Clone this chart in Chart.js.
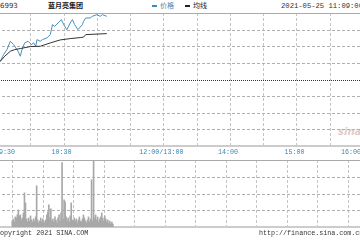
<!DOCTYPE html>
<html>
<head>
<meta charset="utf-8">
<script src="https://cdn.jsdelivr.net/npm/chart.js@4.4.0/dist/chart.umd.min.js"></script>
<style>
  body { margin: 0; background: #fff; }
  #wrap { position: relative; width: 360px; height: 240px; overflow: hidden; background: #fff; }
  .t { position: absolute; white-space: nowrap; line-height: 1; }
  .mono { font-family: 'Liberation Mono', 'DejaVu Sans Mono', monospace; font-size: 6.7px; color: #333; }
  .cjk { font-family: 'Noto Sans CJK SC', sans-serif; font-size: 7px; }
  .dash { display: inline-block; width: 5px; height: 2px; vertical-align: middle; margin-right: 3px; }
  canvas { position: absolute; left: -30px; }
</style>
</head>
<body>
<div id="wrap">
  <div class="t" style="left:0;top:3px;font-family:'DejaVu Sans';font-size:7px;color:#333;">6993</div>
  <div class="t cjk" style="left:48px;top:2px;font-weight:bold;color:#222;">蓝月亮集团</div>
  <div class="t cjk" style="left:152px;top:2px;color:#3d8ab8;"><span class="dash" style="background:#3d8ab8"></span>价格</div>
  <div class="t cjk" style="left:185px;top:2px;color:#222;"><span class="dash" style="background:#222"></span>均线</div>
  <div class="t mono" style="left:281px;top:3px;font-size:7.2px;">2021-05-25 11:09:00</div>
  <div class="t" style="left:338px;top:127px;font-family:'DejaVu Sans';font-style:italic;font-weight:bold;font-size:10px;color:rgba(200,170,170,0.6);">sina</div>
  <canvas id="priceChart" width="420" height="148" style="top:12px;"></canvas>
  <canvas id="volChart" width="420" height="70" style="top:159px;"></canvas>
  <div class="t mono" style="left:-4px;top:230px;">Copyright 2021 SINA.COM</div>
  <div class="t mono" style="left:259px;top:230px;">http://finance.sina.com.cn</div>
</div>
<script>
// x axis: minutes of trading since 09:30 (lunch break removed)
var tickMinutes = [0, 60, 150, 210, 270, 330];
var tickLabels = ['09:30', '10:30', '12:00/13:00', '14:00', '15:00', '16:00'];

var prevClose = 11.00;
var priceLevels = [10.6, 10.7, 10.8, 10.9, 11.0, 11.1, 11.2, 11.3, 11.4];
var volumeLevels = [0, 100, 200, 300, 400];

// price line
var priceMinutes = [0, 3, 6, 9, 12, 15, 17, 19, 21, 23, 25, 28, 31, 33, 35, 36, 39, 41, 45, 48,
  50, 52, 55, 58, 61, 63, 66, 68, 70, 73, 77, 78, 80, 84, 86, 90, 93, 95, 99];
var prices = [11.10, 11.11, 11.15, 11.18, 11.23, 11.21, 11.19, 11.17, 11.14, 11.19, 11.22, 11.23,
  11.21, 11.22, 11.20, 11.24, 11.23, 11.24, 11.25, 11.27, 11.33, 11.32, 11.34, 11.36, 11.32,
  11.30, 11.34, 11.36, 11.33, 11.30, 11.33, 11.35, 11.37, 11.37, 11.38, 11.39, 11.38, 11.39, 11.38];

// average price line
var avgMinutes = [0, 3, 7, 12, 16, 21, 30, 39, 48, 57, 66, 75, 78, 80, 99];
var avgPrices = [11.10, 11.11, 11.14, 11.17, 11.18, 11.186, 11.198, 11.20, 11.22, 11.238,
  11.246, 11.252, 11.255, 11.27, 11.276];

// volume per minute from 09:30
var volumes = [36, 48, 30, 60, 54, 72, 102, 66, 72, 42, 54, 84, 204, 144, 48, 30, 54, 36, 66, 42,
  30, 48, 36, 60, 246, 42, 24, 36, 54, 30, 48, 36, 24, 42, 72, 90, 132, 54, 108, 36,
  48, 30, 60, 42, 24, 54, 72, 36, 84, 384, 48, 162, 150, 60, 36, 54, 30, 66, 144, 42,
  30, 54, 36, 48, 24, 42, 60, 36, 30, 48, 72, 54, 36, 24, 42, 60, 30, 48, 282, 36,
  400, 54, 72, 42, 60, 30, 48, 60, 84, 54, 36, 66, 48, 30, 42, 24, 36, 18, 30, 18];

function near(a, b) { return Math.abs(a - b) < 1e-6; }

var monoFont = { family: "'Liberation Mono', 'DejaVu Sans Mono', monospace", size: 6.7 };
var gridGray = '#c4c4c4';
var rowGray = '#b0b0b0';

// dashed rectangles, one pixel thick, so no line dash state is needed
function hDash(ctx, x1, x2, y, on, off, color) {
  ctx.fillStyle = color;
  for (var x = x1; x < x2; x += on + off) {
    ctx.fillRect(x, y, Math.min(on, x2 - x), 1);
  }
}
function vDash(ctx, x, y1, y2, on, off, color) {
  ctx.fillStyle = color;
  for (var y = y1; y < y2; y += on + off) {
    ctx.fillRect(x, y, 1, Math.min(on, y2 - y));
  }
}

// draws the sina style grid through the chart's scales
function makeGrid(levels, styleFor) {
  return {
    id: 'sinaGrid',
    beforeDatasetsDraw: function (chart) {
      var ctx = chart.ctx, area = chart.chartArea;
      var xs = chart.scales.x, ys = chart.scales.y;
      var left = Math.round(area.left), right = Math.round(area.right);
      var top = Math.round(area.top), bottom = Math.round(area.bottom);
      ctx.save();
      xs.ticks.forEach(function (t) {
        var x = Math.round(xs.getPixelForValue(t.value));
        vDash(ctx, x, top, bottom, 3, 2, gridGray);
      });
      levels.forEach(function (v) {
        var s = styleFor(v);
        var y = Math.round(ys.getPixelForValue(v));
        if (s.dash) {
          hDash(ctx, left, right, y, s.dash[0], s.dash[1], s.color);
        } else {
          ctx.fillStyle = s.color;
          ctx.fillRect(left, y - (s.width > 1 ? 1 : 0), right - left, s.width);
        }
      });
      ctx.restore();
    }
  };
}

var priceCtx = document.getElementById('priceChart').getContext('2d');
new Chart(priceCtx, {
  type: 'line',
  data: {
    datasets: [
      {
        label: '均线',
        data: avgMinutes.map(function (m, i) { return { x: m, y: avgPrices[i] }; }),
        borderColor: '#333',
        borderWidth: 1,
        pointRadius: 0,
        tension: 0
      },
      {
        label: '价格',
        data: priceMinutes.map(function (m, i) { return { x: m, y: prices[i] }; }),
        borderColor: '#4690bd',
        borderWidth: 1,
        pointRadius: 0,
        tension: 0
      }
    ]
  },
  options: {
    responsive: false,
    animation: false,
    devicePixelRatio: 1,
    layout: { padding: { left: 27, right: 27, top: 1, bottom: 0 } },
    plugins: { legend: { display: false }, tooltip: { enabled: false } },
    scales: {
      x: {
        type: 'linear',
        min: 0,
        max: 330,
        grid: { display: false, drawTicks: false },
        border: { display: false },
        ticks: {
          stepSize: 30,
          autoSkip: false,
          maxRotation: 0,
          padding: 2,
          align: 'inner',
          labelOffset: -2,
          color: '#3a86b4',
          font: monoFont,
          callback: function (value) {
            var i = tickMinutes.indexOf(value);
            return i >= 0 ? tickLabels[i] : '';
          }
        },
        afterFit: function (scale) { scale.height = 14; }
      },
      y: {
        min: 10.6,
        max: 11.4,
        ticks: { display: false },
        grid: { display: false, drawTicks: false },
        border: { display: false },
        afterFit: function (scale) { scale.width = 0; }
      }
    }
  },
  plugins: [makeGrid(priceLevels, function (v) {
    if (near(v, prevClose)) return { color: '#333', width: 1, dash: [1, 1] };
    if (near(v, 11.4)) return { color: '#aaa', width: 1 };
    if (near(v, 10.6)) return { color: '#ccc', width: 2 };
    return { color: rowGray, width: 1, dash: [3, 2] };
  })]
});

var volCtx = document.getElementById('volChart').getContext('2d');
new Chart(volCtx, {
  type: 'bar',
  data: {
    datasets: [{
      label: '成交量',
      data: volumes.map(function (v, i) { return { x: i, y: v }; }),
      backgroundColor: '#a8a8a8',
      barThickness: 1
    }]
  },
  options: {
    responsive: false,
    animation: false,
    devicePixelRatio: 1,
    layout: { padding: { left: 27, right: 27, top: 1, bottom: 2 } },
    plugins: { legend: { display: false }, tooltip: { enabled: false } },
    scales: {
      x: {
        type: 'linear',
        min: 0,
        max: 330,
        grid: { display: false, drawTicks: false },
        border: { display: false },
        ticks: { display: false, stepSize: 30 },
        afterFit: function (scale) { scale.height = 0; }
      },
      y: {
        min: 0,
        max: 400,
        ticks: { display: false },
        grid: { display: false, drawTicks: false },
        border: { display: false },
        afterFit: function (scale) { scale.width = 0; }
      }
    }
  },
  plugins: [makeGrid(volumeLevels, function (v) {
    if (v === 400) return { color: '#aaa', width: 1 };
    if (v === 0) return { color: '#ccc', width: 2 };
    return { color: rowGray, width: 1, dash: [3, 2] };
  })]
});
</script>
</body>
</html>
